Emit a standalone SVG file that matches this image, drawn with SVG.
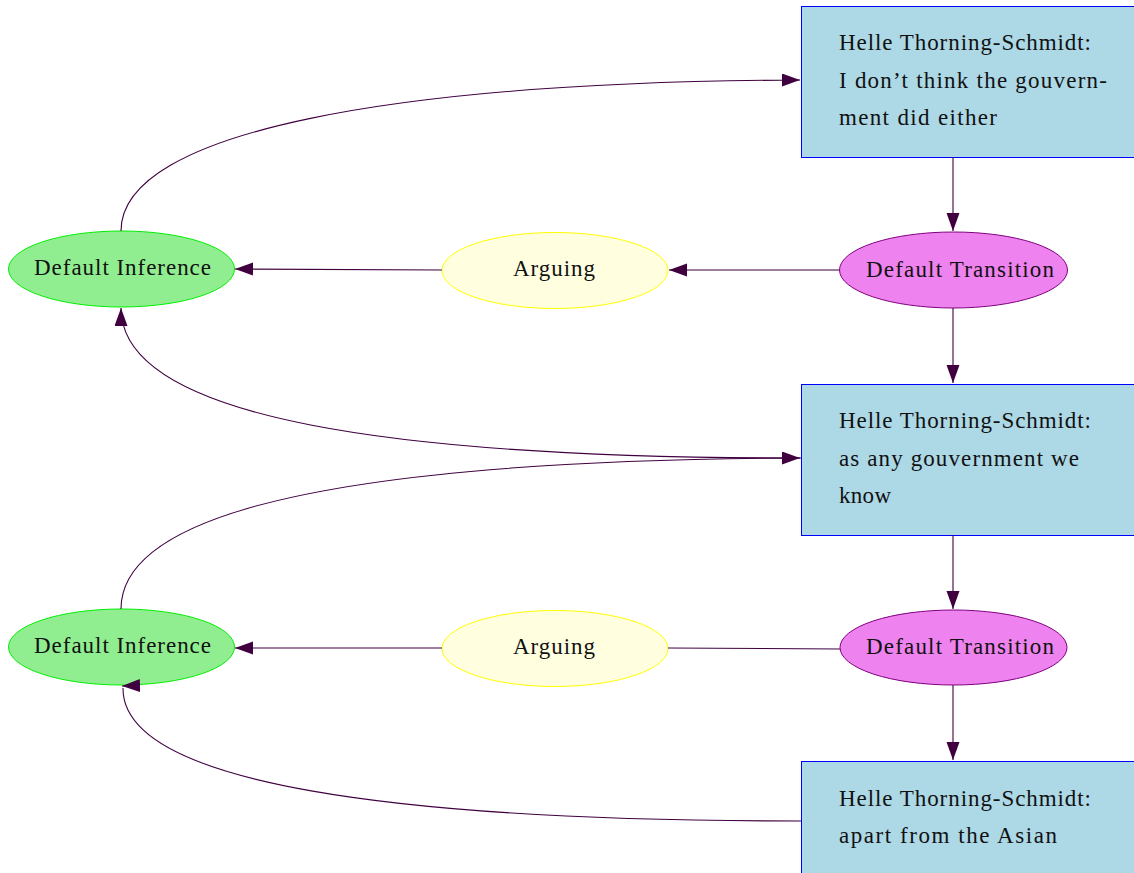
<svg xmlns="http://www.w3.org/2000/svg" width="1134" height="873" viewBox="0 0 1134 873">
  <style>
    .box { fill: #add8e6; stroke: #0000ff; stroke-width: 1; }
    .inf { fill: #90ee90; stroke: #00ee00; stroke-width: 1; }
    .arg { fill: #ffffe0; stroke: #ffff00; stroke-width: 1; }
    .tra { fill: #ee82ee; stroke: #800080; stroke-width: 1; }
    .edge { fill: none; stroke: #400040; stroke-width: 1.1; }
    text { font-family: "Liberation Serif", "DejaVu Serif", serif; font-size: 23px; fill: #111; }
  </style>
  <defs>
    <marker id="arrow" markerUnits="userSpaceOnUse" markerWidth="20" markerHeight="14" refX="18" refY="6.5" orient="auto">
      <path d="M0,0 L18,6.5 L0,13 Z" fill="#400040"/>
    </marker>
  </defs>

  <rect width="1134" height="873" fill="#ffffff"/>

  <!-- statements -->
  <g id="stmt1">
    <rect class="box" x="801.5" y="6.5" width="340" height="151"/>
    <text x="839" y="50" textLength="252">Helle Thorning-Schmidt:</text>
    <text x="839" y="88" textLength="268">I don’t think the gouvern-</text>
    <text x="839" y="125" textLength="158">ment did either</text>
  </g>
  <g id="stmt2">
    <rect class="box" x="801.5" y="384.5" width="340" height="151"/>
    <text x="839" y="428" textLength="252">Helle Thorning-Schmidt:</text>
    <text x="839" y="466" textLength="240">as any gouvernment we</text>
    <text x="839" y="503" textLength="52">know</text>
  </g>
  <g id="stmt3">
    <rect class="box" x="801.5" y="761.5" width="340" height="151"/>
    <text x="839" y="806" textLength="252">Helle Thorning-Schmidt:</text>
    <text x="839" y="843" textLength="218">apart from the Asian</text>
  </g>

  <!-- inference / argument / transition nodes -->
  <g id="inference1">
    <ellipse class="inf" cx="121.5" cy="269" rx="113" ry="38"/>
    <text x="34" y="275" textLength="177">Default Inference</text>
  </g>
  <g id="arguing1">
    <ellipse class="arg" cx="555" cy="270.5" rx="113" ry="38"/>
    <text x="513" y="276" textLength="82">Arguing</text>
  </g>
  <g id="transition1">
    <ellipse class="tra" cx="953.5" cy="270" rx="114" ry="38"/>
    <text x="866" y="277" textLength="188">Default Transition</text>
  </g>
  <g id="inference2">
    <ellipse class="inf" cx="121.5" cy="647" rx="113" ry="38"/>
    <text x="34" y="653" textLength="177">Default Inference</text>
  </g>
  <g id="arguing2">
    <ellipse class="arg" cx="555" cy="648.5" rx="113" ry="38"/>
    <text x="513" y="654" textLength="82">Arguing</text>
  </g>
  <g id="transition2">
    <ellipse class="tra" cx="953.5" cy="647.5" rx="113.5" ry="37.5"/>
    <text x="866" y="654" textLength="188">Default Transition</text>
  </g>

  <!-- connectors, drawn on top so the arrowheads overlap the node outlines -->
  <g id="edges">
    <path class="edge" d="M953,157 L953,231" marker-end="url(#arrow)"/>
    <path class="edge" d="M839,270 L669,270" marker-end="url(#arrow)"/>
    <path class="edge" d="M442,270 L235,269" marker-end="url(#arrow)"/>
    <path class="edge" d="M121,231 C121,130 400,82 800,80" marker-end="url(#arrow)"/>
    <path class="edge" d="M953,308 L953,383" marker-end="url(#arrow)"/>
    <path class="edge" d="M801,458 C400,458 121,420 121,308" marker-end="url(#arrow)"/>
    <path class="edge" d="M121,609 C121,500 400,460 800,458" marker-end="url(#arrow)"/>
    <path class="edge" d="M953,535 L953,609" marker-end="url(#arrow)"/>
    <path class="edge" d="M840,649 L668,648"/>
    <path class="edge" d="M442,648 L235,648" marker-end="url(#arrow)"/>
    <path class="edge" d="M953,685 L953,760" marker-end="url(#arrow)"/>
    <path class="edge" d="M801,821 C400,821 122,785 123,688 M140,685.5 L122,686" marker-end="url(#arrow)"/>
  </g>
</svg>
